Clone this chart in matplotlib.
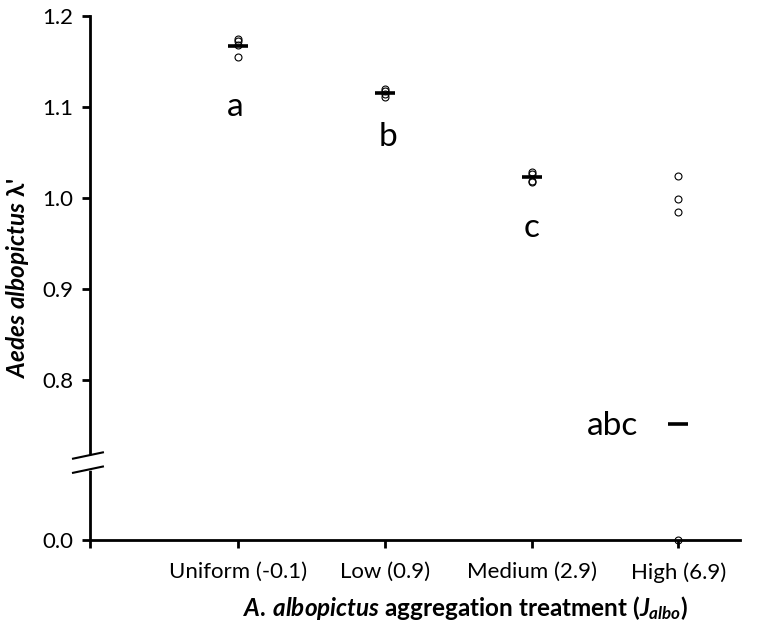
import numpy as np
import matplotlib as mpl
import matplotlib.pyplot as plt

# treatment names and replicate lambda' values
treatments = ['Uniform (-0.1)', 'Low (0.9)', 'Medium (2.9)', 'High (6.9)']
uniform = [1.174, 1.172, 1.168, 1.155]
low = [1.120, 1.117, 1.114, 1.111]
medium = [1.028, 1.026, 1.019, 1.017]
high = [1.024, 0.999, 0.984, 0.0]
letters = ['a', 'b', 'c', 'abc']

mpl.rcParams['font.family'] = ['Lato', 'DejaVu Sans']
mpl.rcParams['mathtext.fontset'] = 'custom'
mpl.rcParams['mathtext.rm'] = 'Lato:bold'
mpl.rcParams['mathtext.it'] = 'Lato:italic:bold'


# broken axis: linear above 0.7, squashed below
def fwd(y):
    y = np.asarray(y, dtype=float)
    return np.where(y >= 0.7, y, 0.7 - (0.7 - y) * 0.108)


def inv(y):
    y = np.asarray(y, dtype=float)
    return np.where(y >= 0.7, y, 0.7 - (0.7 - y) / 0.108)


fig = plt.figure(figsize=(7.62, 6.3), dpi=100)
ax = fig.add_axes([0.118, 0.143, 0.853, 0.832])
ax.set_yscale('function', functions=(fwd, inv))

groups = [uniform, low, medium, high]
for i, vals in enumerate(groups):
    ax.plot([i] * len(vals), vals, 'o', mfc='none', mec='black', ms=5, mew=0.8,
            clip_on=False, zorder=3)
    ax.plot(i, np.mean(vals), '_', color='black', ms=14, mew=2.6, zorder=4)

# significance letters
letter_x = [-0.02, 1.02, 2.0, 2.55]
letter_y = [1.1, 1.067, 0.967, 0.75]
for x, y, s in zip(letter_x, letter_y, letters):
    ax.text(x, y, s, ha='center', va='center', fontsize=24)

ax.set_xlim(-1.01, 3.42)
ax.set_ylim(0.0, 1.2)
ax.set_xticks(range(4))
ax.set_xticklabels(treatments, fontsize=16)
ax.set_xticks([-1.01], minor=True)
ax.set_yticks([0.0, 0.8, 0.9, 1.0, 1.1, 1.2])
ax.set_yticklabels(['0.0', '0.8', '0.9', '1.0', '1.1', '1.2'], fontsize=16)
ax.tick_params(axis='both', which='both', direction='out', length=6, width=2,
               color='black', pad=6)
ax.tick_params(axis='x', pad=10)

for s in ['top', 'right']:
    ax.spines[s].set_visible(False)
for s in ['left', 'bottom']:
    ax.spines[s].set_linewidth(2)

# break marks on the y axis
trans = ax.transAxes
yb1, yb2 = 0.161, 0.134
ax.plot([0, 0], [yb2 + 0.004, yb1 - 0.004], color='white', lw=4, transform=trans,
        clip_on=False, zorder=5)
for yb in (yb1, yb2):
    ax.plot([-0.026, 0.02], [yb - 0.006, yb + 0.006], color='black', lw=1.5,
            transform=trans, clip_on=False, zorder=6)

ax.set_ylabel(r"$\mathit{Aedes}$ $\mathit{albopictus}$ λ'", fontsize=17.5,
              fontweight='bold', labelpad=8)
ax.set_xlabel(r"$\mathit{A.\,albopictus}$ aggregation treatment ($\mathit{J}_{\mathit{albo}}$)",
              fontsize=17.5, fontweight='bold')
ax.xaxis.set_label_coords(0.578, -0.104)

fig.savefig('out.png', dpi=100)
